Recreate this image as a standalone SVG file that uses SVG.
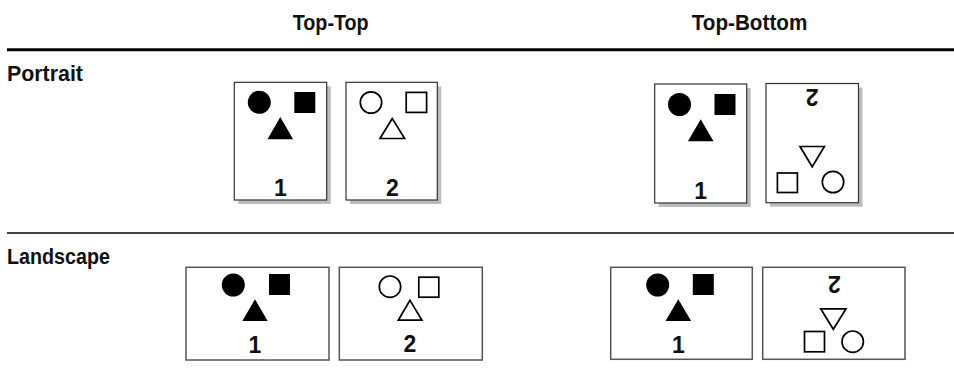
<svg xmlns="http://www.w3.org/2000/svg" width="954" height="385" viewBox="0 0 954 385">
<style>
  .hdr { font-family: "Liberation Sans", Arial, sans-serif; font-weight: bold; font-size: 22px; fill: #111; }
  .num { font-family: "Liberation Sans", Arial, sans-serif; font-weight: bold; font-size: 23px; fill: #111; text-anchor: middle; }
  .frame { fill: #fff; stroke: #333; stroke-width: 1.2; }
  .lframe { fill: #fff; stroke: #555; stroke-width: 1.5; }
  .shadow { fill: #bdbdbd; }
  .solid { fill: #000; stroke: none; }
  .open { fill: none; stroke: #000; stroke-width: 1.7; }
</style>
<rect width="954" height="385" fill="#fff"/>

<g id="headers">
  <text class="hdr" x="292.7" y="30" textLength="76" lengthAdjust="spacingAndGlyphs">Top-Top</text>
  <text class="hdr" x="691.7" y="30" textLength="115.6" lengthAdjust="spacingAndGlyphs">Top-Bottom</text>
  <text class="hdr" x="7" y="81" textLength="76" lengthAdjust="spacingAndGlyphs">Portrait</text>
  <text class="hdr" x="7" y="264" textLength="103" lengthAdjust="spacingAndGlyphs">Landscape</text>
</g>

<g id="rules">
  <line x1="7" y1="49.7" x2="954" y2="49.7" stroke="#000" stroke-width="3"/>
  <line x1="7" y1="233" x2="954" y2="233" stroke="#000" stroke-width="1.5"/>
</g>

<!-- Portrait Top-Top -->
<g id="p-tt-1">
  <rect class="shadow" x="238.3" y="86.3" width="92.4" height="117.7"/>
  <rect class="frame" x="234.3" y="82.3" width="92.4" height="117.7"/>
  <circle class="solid" cx="259.3" cy="102.3" r="11.5"/>
  <rect class="solid" x="294.3" y="92" width="21" height="21"/>
  <polygon class="solid" points="280.3,117 267.5,139.2 293.1,139.2"/>
  <text class="num" x="280.3" y="196">1</text>
</g>
<g id="p-tt-2">
  <rect class="shadow" x="350" y="86.3" width="91.3" height="117.7"/>
  <rect class="frame" x="346" y="82.3" width="91.3" height="117.7"/>
  <circle class="open" cx="371" cy="102.5" r="10.7"/>
  <rect class="open" x="406.2" y="92.4" width="20.4" height="20"/>
  <polygon class="open" points="392.3,118.5 380,138.5 404.6,138.5"/>
  <text class="num" x="392.3" y="196">2</text>
</g>

<!-- Portrait Top-Bottom -->
<g id="p-tb-1">
  <rect class="shadow" x="658.7" y="88" width="92" height="119"/>
  <rect class="frame" x="654.7" y="84" width="92" height="119"/>
  <circle class="solid" cx="679.5" cy="104.5" r="11.5"/>
  <rect class="solid" x="714.5" y="94" width="21" height="21"/>
  <polygon class="solid" points="700.7,119.3 687.9,141.3 713.5,141.3"/>
  <text class="num" x="700.7" y="199">1</text>
</g>
<g id="p-tb-2">
  <rect class="shadow" x="770" y="87.5" width="92.5" height="119.2"/>
  <rect class="frame" x="766" y="83.5" width="92.5" height="119.2"/>
  <text class="num" transform="translate(812,89) rotate(180)" x="0" y="0">2</text>
  <polygon class="open" points="800,146.5 824.4,146.5 812.2,166.8"/>
  <rect class="open" x="777.4" y="173" width="20" height="19.5"/>
  <circle class="open" cx="833" cy="182" r="10.7"/>
</g>

<!-- Landscape Top-Top -->
<g id="l-tt-1">
  <rect class="lframe" x="186" y="267.3" width="143" height="92.7"/>
  <circle class="solid" cx="233.3" cy="285" r="11.5"/>
  <rect class="solid" x="269" y="274" width="21" height="21"/>
  <polygon class="solid" points="255,299.3 242.3,321 267.7,321"/>
  <text class="num" x="255" y="353.3">1</text>
</g>
<g id="l-tt-2">
  <rect class="lframe" x="339.3" y="267.3" width="143" height="92.7"/>
  <circle class="open" cx="390" cy="286.7" r="10.7"/>
  <rect class="open" x="418.8" y="277.2" width="20" height="20"/>
  <polygon class="open" points="410,300.3 398.3,320.2 421.9,320.2"/>
  <text class="num" x="410" y="352.3">2</text>
</g>

<!-- Landscape Top-Bottom -->
<g id="l-tb-1">
  <rect class="lframe" x="610.7" y="267.3" width="141.6" height="92"/>
  <circle class="solid" cx="657.7" cy="285" r="11.5"/>
  <rect class="solid" x="692.8" y="274" width="21" height="21"/>
  <polygon class="solid" points="678.3,299.3 665.5,321 691.1,321"/>
  <text class="num" x="678.3" y="353.3">1</text>
</g>
<g id="l-tb-2">
  <rect class="lframe" x="762.7" y="267.3" width="142.3" height="92"/>
  <text class="num" transform="translate(834.3,276.3) rotate(180)" x="0" y="0">2</text>
  <polygon class="open" points="820.7,308.8 846,308.8 833.3,329.3"/>
  <rect class="open" x="804.5" y="331.5" width="20" height="20.3"/>
  <circle class="open" cx="852.7" cy="341.7" r="10.7"/>
</g>
</svg>
